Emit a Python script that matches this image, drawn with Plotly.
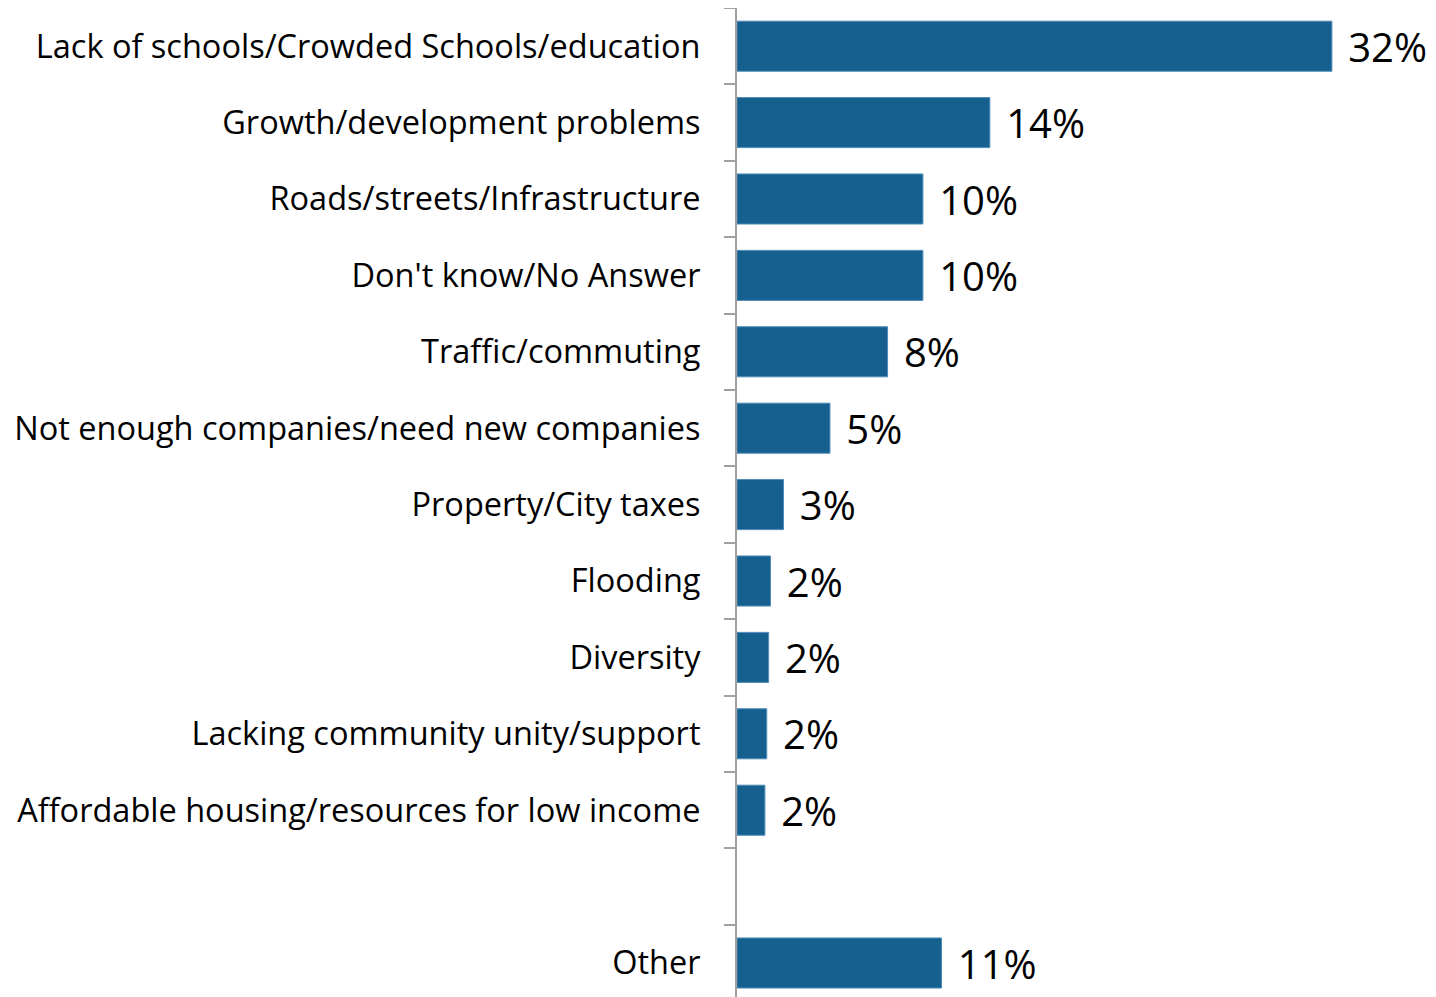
import plotly.graph_objects as go

categories = [
    "Lack of schools/Crowded Schools/education",
    "Growth/development problems",
    "Roads/streets/Infrastructure",
    "Don't know/No Answer",
    "Traffic/commuting",
    "Not enough companies/need new companies",
    "Property/City taxes",
    "Flooding",
    "Diversity",
    "Lacking community unity/support",
    "Affordable housing/resources for low income",
    " ",
    "Other",
]
values = [32.0, 13.6, 10.0, 10.0, 8.1, 5.0, 2.5, 1.8, 1.7, 1.6, 1.5, None, 11.0]
labels = ["32%", "14%", "10%", "10%", "8%", "5%", "3%", "2%", "2%", "2%", "2%", "", "11%"]

fig = go.Figure()

fig.add_trace(go.Bar(
    y=categories,
    x=values,
    orientation="h",
    marker=dict(color="#15608f", line=dict(color="#4d8cb8", width=1)),
    text=["\u2004" + t if t else "" for t in labels],
    textposition="outside",
    constraintext="none",
    textfont=dict(family="Open Sans", size=40, color="#000000"),
    cliponaxis=False,
    hoverinfo="skip",
))

# page body has an 8px margin, so the figure is sized to what is left
fig.update_layout(
    width=1428,
    height=989,
    margin=dict(l=729, r=0, t=0, b=0),
    plot_bgcolor="white",
    paper_bgcolor="white",
    bargap=0.345,
    showlegend=False,
    font=dict(family="Open Sans", color="#000000"),
    xaxis=dict(
        range=[0, 37.6],
        visible=False,
        showgrid=False,
        zeroline=False,
    ),
    yaxis=dict(
        type="category",
        categoryorder="array",
        categoryarray=categories,
        range=[12.445, -0.5],
        tickson="boundaries",
        ticks="outside",
        ticklen=11,
        tickcolor="#a0a0a0",
        tickwidth=2,
        showline=True,
        linecolor="#a0a0a0",
        linewidth=2,
        showgrid=False,
        ticklabelstandoff=28,
        tickfont=dict(family="Open Sans", size=32.5, color="#000000"),
    ),
)

fig.write_html("out.html")
